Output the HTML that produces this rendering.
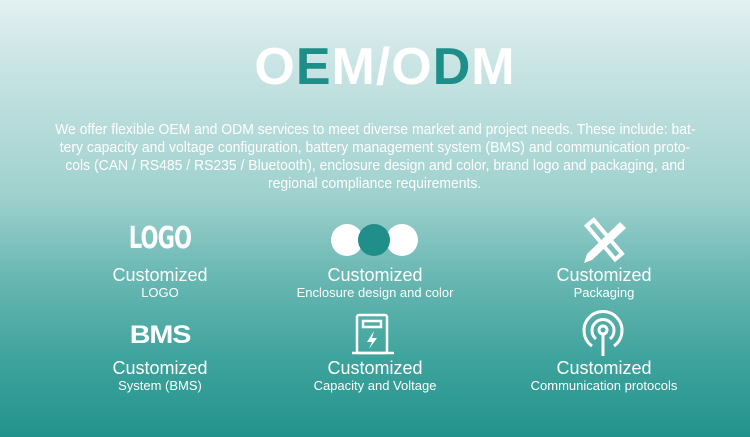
<!DOCTYPE html>
<html><head><style>
body{margin:0;width:750px;height:437px;overflow:hidden;font-family:"Liberation Sans",sans-serif;
background:linear-gradient(180deg,#e4f0f1 0%,#c9e4e4 15%,#9fd1ce 45%,#6cb9b4 62%,#3fa39d 82%,#22938c 100%);position:relative;color:#fff}
.t{position:absolute;top:37px;left:0;width:770px;text-align:center;font-size:52px;font-weight:bold;letter-spacing:1px}
.t span{color:#1e8f88}
.l{position:absolute;left:0;width:750px;text-align:center;font-size:15px;white-space:nowrap}
.l div{display:inline-block;transform:scaleX(0.93);transform-origin:center}
.c{position:absolute;width:220px;text-align:center}
.c b{display:block;font-weight:normal;font-size:18px;line-height:20px}
.c i{display:block;font-style:normal;font-size:13px;line-height:16px}
svg{position:absolute}
</style></head><body>
<div class="t">O<span>E</span>M/O<span>D</span>M</div>
<div class="l" style="top:121px;left:0"><div>We offer flexible OEM and ODM services to meet diverse market and project needs. These include: bat-</div></div>
<div class="l" style="top:139px"><div>tery capacity and voltage configuration, battery management system (BMS) and communication proto-</div></div>
<div class="l" style="top:157px"><div>cols (CAN / RS485 / RS235 / Bluetooth), enclosure design and color, brand logo and packaging, and</div></div>
<div class="l" style="top:175px"><div>regional compliance requirements.</div></div>

<div style="position:absolute;left:110px;top:222px;width:100px;text-align:center;font-family:'DejaVu Sans Condensed','DejaVu Sans',sans-serif;font-size:30px;line-height:34px;font-weight:bold;letter-spacing:-1px;transform:scaleX(0.78)">LOGO</div>
<svg style="left:330px;top:223px" width="90" height="36"><circle cx="17" cy="17" r="16" fill="#fff"/><circle cx="72" cy="17" r="16" fill="#fff"/><circle cx="44" cy="17" r="16" fill="#218f89"/></svg>
<svg style="left:580px;top:216px" width="50" height="50"><g fill="none" stroke="#fff" stroke-width="4"><rect x="-4" y="-22" width="9" height="44" transform="translate(24,24) rotate(-40)"/></g><path d="M40 6 L46 12 L12 44 L4 47 L7 38 Z" fill="#fff"/></svg>

<div style="position:absolute;left:110px;top:321px;width:100px;text-align:center;font-size:25px;font-weight:900;letter-spacing:-1px;transform:scaleX(1.15)">BMS</div>
<svg style="left:352px;top:313px" width="46" height="42"><g fill="none" stroke="#fff" stroke-width="2.5"><rect x="5" y="2" width="30" height="38" rx="2"/><rect x="11" y="8" width="18" height="6"/><line x1="0" y1="40" x2="42" y2="40"/></g><path d="M22 18 L15 29 L20 29 L17 36 L25 25 L20 25 Z" fill="#fff"/></svg>
<svg style="left:580px;top:310px" width="48" height="48"><g fill="none" stroke="#fff" stroke-width="3"><path d="M12 36 A19 19 0 1 1 34 36"/><path d="M16 29 A11 11 0 1 1 30 29"/><circle cx="23" cy="20" r="4"/><line x1="23" y1="24" x2="23" y2="46"/></g></svg>

<div class="c" style="left:50px;top:265px"><b>Customized</b><i>LOGO</i></div>
<div class="c" style="left:265px;top:265px"><b>Customized</b><i>Enclosure design and color</i></div>
<div class="c" style="left:494px;top:265px"><b>Customized</b><i>Packaging</i></div>
<div class="c" style="left:50px;top:358px"><b>Customized</b><i>System (BMS)</i></div>
<div class="c" style="left:265px;top:358px"><b>Customized</b><i>Capacity and Voltage</i></div>
<div class="c" style="left:494px;top:358px"><b>Customized</b><i>Communication protocols</i></div>
</body></html>
